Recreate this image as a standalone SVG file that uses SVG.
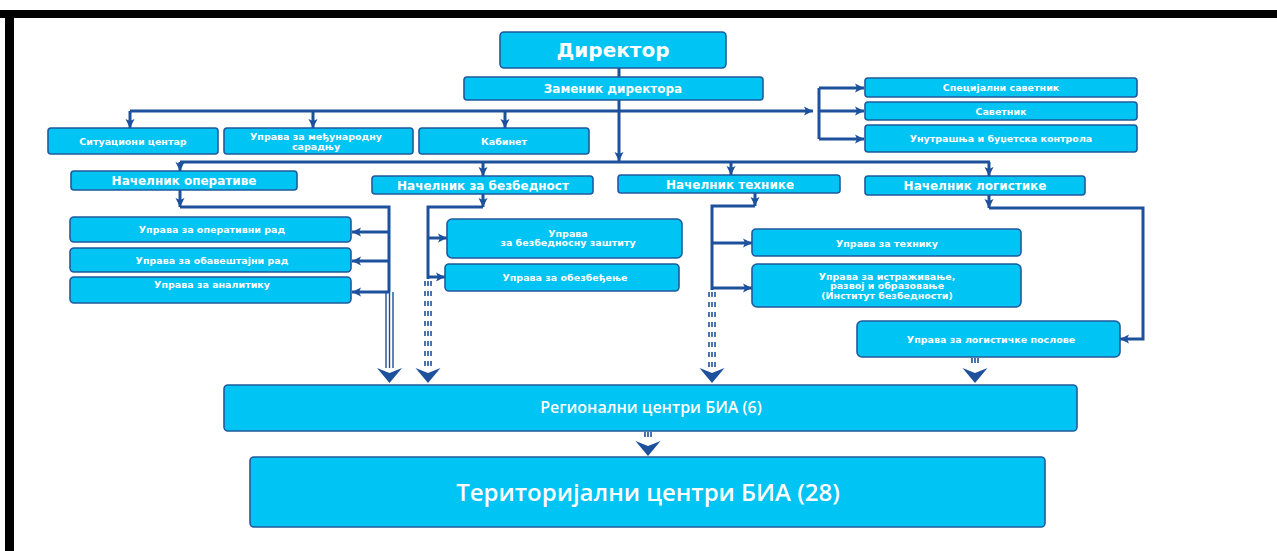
<svg xmlns="http://www.w3.org/2000/svg" width="1277" height="551" viewBox="0 0 1277 551">
<style>
.box{fill:#00c4f4;stroke:#1f5a9c;stroke-width:1.6}
.t{font-family:"DejaVu Sans",Verdana,sans-serif;font-weight:bold;fill:#ffffff;text-anchor:middle}
.s{font-size:9.5px}
.m{font-size:12px}
.w{font-family:"Open Sans","DejaVu Sans",sans-serif;font-weight:600;fill:#ffffff;text-anchor:middle}
.ln{fill:none;stroke:#1d519c;stroke-width:3}
.tl{fill:none;stroke:#1d519c;stroke-width:1.4}
.dl{fill:none;stroke:#1d519c;stroke-width:1.6;stroke-dasharray:5 5}
.big{fill:#1d519c}
</style>
<defs>
<marker id="ah" markerUnits="userSpaceOnUse" markerWidth="10" markerHeight="10" refX="9" refY="5" orient="auto"><path d="M0,0.5 L9,5 L0,9.5 L2,5 z" fill="#1d519c"/></marker>
<path id="bigarrow" d="M-12.5,0 L0,5 L12.5,0 L0,15 z"/>
</defs>
<rect x="0" y="0" width="1277" height="551" fill="#ffffff"/>
<g id="frame">
<rect x="0" y="10" width="1277" height="8" fill="#000000"/>
<rect x="5" y="10" width="9" height="541" fill="#000000"/>
</g>
<g id="connectors">
<path class="ln" d="M619,68 V77"/>
<path class="ln" d="M619,100 V161" marker-end="url(#ah)"/>
<path class="ln" d="M130,111 H813" marker-end="url(#ah)"/>
<path class="ln" d="M130,111 V128" marker-end="url(#ah)"/>
<path class="ln" d="M313,111 V128" marker-end="url(#ah)"/>
<path class="ln" d="M505,111 V128" marker-end="url(#ah)"/>
<path class="ln" d="M819,88 V139"/>
<path class="ln" d="M819,88 H864" marker-end="url(#ah)"/>
<path class="ln" d="M819,111 H864" marker-end="url(#ah)"/>
<path class="ln" d="M819,139 H864" marker-end="url(#ah)"/>
<path class="ln" d="M180,162 H990"/>
<path class="ln" d="M180,162 V171" marker-end="url(#ah)"/>
<path class="ln" d="M483,162 V176" marker-end="url(#ah)"/>
<path class="ln" d="M731,162 V175" marker-end="url(#ah)"/>
<path class="ln" d="M989,162 V176" marker-end="url(#ah)"/>
<path class="ln" d="M180,190 V207" marker-end="url(#ah)"/>
<path class="ln" d="M180,207 H389 V292"/>
<path class="ln" d="M389,232 H352" marker-end="url(#ah)"/>
<path class="ln" d="M389,261 H352" marker-end="url(#ah)"/>
<path class="ln" d="M389,292 H352" marker-end="url(#ah)"/>
<path class="tl" d="M386,292 V368 M389.5,292 V368 M393,292 V368"/>
<use href="#bigarrow" class="big" x="389.5" y="368"/>
<path class="ln" d="M483,194 V207" marker-end="url(#ah)"/>
<path class="ln" d="M483,207 H428 V279"/>
<path class="ln" d="M428,238 H447" marker-end="url(#ah)"/>
<path class="ln" d="M428,277 H445" marker-end="url(#ah)"/>
<path class="dl" d="M425,281 V368 M428,281 V368 M431,281 V368"/>
<use href="#bigarrow" class="big" x="428" y="368"/>
<path class="ln" d="M755,193 V206" marker-end="url(#ah)"/>
<path class="ln" d="M755,206 H712 V290"/>
<path class="ln" d="M712,243 H752" marker-end="url(#ah)"/>
<path class="ln" d="M712,288 H752" marker-end="url(#ah)"/>
<path class="dl" d="M709,292 V368 M712,292 V368 M715,292 V368"/>
<use href="#bigarrow" class="big" x="712" y="368"/>
<path class="ln" d="M989,195 V208" marker-end="url(#ah)"/>
<path class="ln" d="M989,208 H1143 V339 H1120" marker-end="url(#ah)"/>
<path class="dl" d="M972,358 V368 M975,358 V368 M978,358 V368"/>
<use href="#bigarrow" class="big" x="975" y="368"/>
<path class="dl" d="M645,432 V441 M648,432 V441 M651,432 V441"/>
<use href="#bigarrow" class="big" x="648" y="441"/>
</g>
<g id="n-direktor"><rect class="box" x="500" y="32" width="226" height="36" rx="4"/><text class="t" x="613" y="57" font-size="20">Директор</text></g>
<g id="n-zamenik"><rect class="box" x="464" y="77" width="299" height="23" rx="3"/><text class="t m" x="613" y="93">Заменик директора</text></g>
<g id="n-situacioni"><rect class="box" x="48" y="128" width="170" height="26" rx="3"/><text class="t s" x="133" y="144.5">Ситуациони центар</text></g>
<g id="n-medjunarodna"><rect class="box" x="224" y="128" width="189" height="26" rx="3"/><text class="t s" x="316" y="139.5">Управа за међународну</text><text class="t s" x="316" y="150">сарадњу</text></g>
<g id="n-kabinet"><rect class="box" x="419" y="128" width="170" height="26" rx="3"/><text class="t s" x="504" y="144.5">Кабинет</text></g>
<g id="n-specijalni"><rect class="box" x="865" y="78" width="272" height="19" rx="3"/><text class="t s" x="1001" y="91">Специјални саветник</text></g>
<g id="n-savetnik"><rect class="box" x="865" y="102" width="272" height="18" rx="3"/><text class="t s" x="1001" y="114.5">Саветник</text></g>
<g id="n-kontrola"><rect class="box" x="865" y="125" width="272" height="27" rx="3"/><text class="t s" x="1001" y="142">Унутрашња и буџетска контрола</text></g>
<g id="n-operativa"><rect class="box" x="71" y="171" width="226" height="19" rx="3"/><text class="t m" x="184" y="185">Начелник оперативе</text></g>
<g id="n-bezbednost"><rect class="box" x="372" y="176" width="221" height="18" rx="3"/><text class="t m" x="483" y="189.5">Начелник за безбедност</text></g>
<g id="n-tehnika"><rect class="box" x="618" y="175" width="222" height="18" rx="3"/><text class="t m" x="730" y="188.5">Начелник технике</text></g>
<g id="n-logistika"><rect class="box" x="865" y="176" width="220" height="19" rx="3"/><text class="t m" x="975" y="190">Начелник логистике</text></g>
<g id="n-operativni"><rect class="box" x="70" y="217" width="281" height="25" rx="4"/><text class="t s" x="212" y="233">Управа за оперативни рад</text></g>
<g id="n-obavestajni"><rect class="box" x="70" y="248" width="281" height="24" rx="4"/><text class="t s" x="212" y="263.5">Управа за обавештајни рад</text></g>
<g id="n-analitika"><rect class="box" x="70" y="277" width="281" height="26" rx="4"/><text class="t s" x="212" y="287.5">Управа за аналитику</text></g>
<g id="n-zastita"><rect class="box" x="447" y="219" width="235" height="39" rx="5"/><text class="t s" x="568" y="236.5">Управа</text><text class="t s" x="568" y="246">за безбедносну заштиту</text></g>
<g id="n-obezbedjenje"><rect class="box" x="445" y="264" width="234" height="27" rx="4"/><text class="t s" x="565" y="280.5">Управа за обезбеђење</text></g>
<g id="n-tehnika-uprava"><rect class="box" x="752" y="229" width="269" height="27" rx="4"/><text class="t s" x="887" y="246.5">Управа за технику</text></g>
<g id="n-istrazivanje"><rect class="box" x="752" y="264" width="269" height="43" rx="5"/><text class="t s" x="887" y="279.5">Управа за истраживање,</text><text class="t s" x="887" y="289">развој и образовање</text><text class="t s" x="887" y="298.5">(Институт безбедности)</text></g>
<g id="n-logisticke"><rect class="box" x="857" y="321" width="263" height="36" rx="5"/><text class="t s" x="991" y="342.5">Управа за логистичке послове</text></g>
<g id="n-regionalni"><rect class="box" x="224" y="385" width="853" height="46" rx="4"/><text class="w" x="651" y="413" font-size="16">Регионални центри БИА (6)</text></g>
<g id="n-teritorijalni"><rect class="box" x="250" y="457" width="795" height="70" rx="4"/><text class="w" x="648" y="501" font-size="24">Територијални центри БИА (28)</text></g>
</svg>
